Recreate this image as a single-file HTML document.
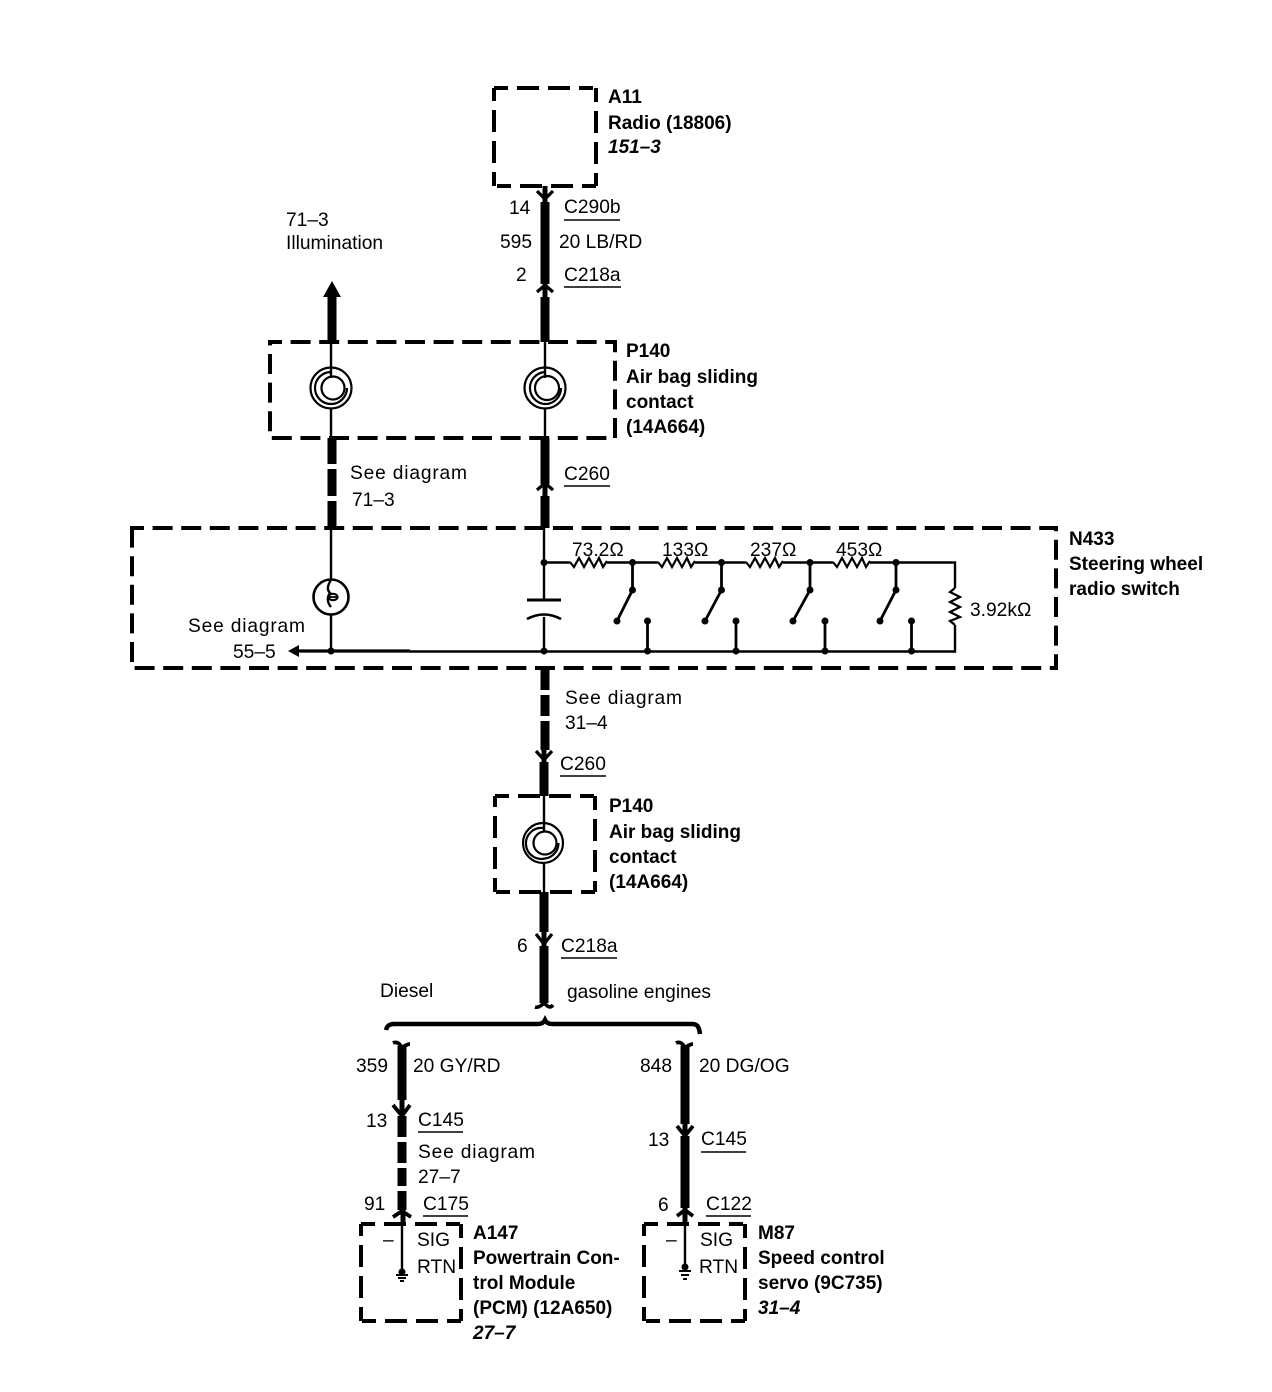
<!DOCTYPE html>
<html><head><meta charset="utf-8"><style>
html,body{margin:0;padding:0;background:#fff}
svg{display:block}
text{font-family:"Liberation Sans",sans-serif;font-size:19.2px;fill:#000}
.b{font-weight:bold;font-size:19px}
.i{font-weight:bold;font-style:italic;font-size:19px}
.d{fill:none;stroke:#000;stroke-width:4;stroke-dasharray:20 8.6;stroke-dashoffset:8}
.s{fill:none;stroke:#000;stroke-width:4;stroke-dasharray:14 9 22 9 22 9 14 200}
.t{fill:none;stroke:#000;stroke-width:9}
.m{fill:none;stroke:#000;stroke-width:5}
.n{fill:none;stroke:#000;stroke-width:2.4}
.c{fill:none;stroke:#000;stroke-width:3.2}
</style></head><body>
<svg width="1272" height="1392" viewBox="0 0 1272 1392" xmlns="http://www.w3.org/2000/svg">
<rect width="1272" height="1392" fill="#fff"/>

<!-- dashed boxes -->
<path class="s" d="M494 88H596M596 88V186M596 186H494M494 186V88"/>
<rect class="d" x="270" y="342" width="345" height="96"/>
<rect class="d" x="132" y="528" width="924" height="140"/>
<path class="s" d="M495 796H595M595 796V892M595 892H495M495 892V796"/>
<path class="s" d="M361 1224H461M461 1224V1321M461 1321H361M361 1321V1224"/>
<path class="s" d="M644 1224H745M745 1224V1321M745 1321H644M644 1321V1224"/>

<!-- heavy wires -->
<path class="t" d="M545 202V284M545 297V342M545 438V484M545 496V528"/>
<path class="m" d="M545 186V204M545 284V297M545 484V496"/>
<path class="c" d="M537 191L545 199L553 191M537 292L545 285L553 292M537 490L545 483L553 490"/>
<path class="t" d="M332 297V342M332 438V464M332 469V496M332 501V528"/>
<path d="M332 281L341 297H323Z" fill="#000"/>
<path class="t" d="M545 668V690M545 695V716M545 721V750"/>
<path class="t" d="M544 762V796"/>
<path class="m" d="M544 750V764"/>
<path class="c" d="M536 751L544 760L552 751"/>
<path class="t" d="M544 892V932"/>
<path class="c" d="M536 934L544 944L552 934"/>
<path class="m" d="M544 932V946"/>
<path class="t" d="M544 946V1003"/>
<path class="c" style="stroke-width:3.6" d="M535 1007C538 1008 541 1006 544 1003C547 1006 550 1009 553 1005"/>

<!-- brace -->
<path d="M386 1030C387 1026 389 1024 394 1024H538Q543 1024 545 1020Q547 1024 552 1024H692C697 1024 699 1026 700 1034" fill="none" stroke="#000" stroke-width="4.5"/>

<!-- lower wires -->
<path class="t" d="M402 1046V1100M402 1116V1137M402 1142V1163M402 1168V1186M402 1191V1210"/>
<path class="c" style="stroke-width:3.8" d="M393 1043C397 1041 400 1044 402 1048C404 1046 408 1044 410 1044M393 1105L402 1116L410 1105M393 1217L402 1211L411 1217"/>
<path class="m" d="M402 1100V1116M403 1210V1224"/>
<path class="t" d="M685 1046V1124M685 1136V1208"/>
<path class="c" style="stroke-width:3.8" d="M676 1043C680 1041 683 1044 685 1048C687 1046 691 1044 693 1044M677 1126L685 1136L693 1126M677 1216L685 1210L693 1216"/>
<path class="m" d="M685 1122V1136M685 1208V1224"/>

<!-- thin wires through boxes -->
<path class="n" d="M331 342V378M331 408V438M545 342V378M545 409V438M331 528V579M331 615V651M544 528V600M544 617V651M544 796V832M544 864V892"/>

<!-- coils -->
<g fill="none" stroke="#000" stroke-width="2.2">
<circle cx="331" cy="388" r="20.500"/><path d="M331 372A16 16 0 1 0 331 404A16 16 0 0 0 347 388" /><circle cx="333" cy="388" r="11.500"/>
<circle cx="545" cy="388" r="20.500"/><path d="M545 372A16 16 0 1 0 547 404A16 16 0 0 0 561 388"/><circle cx="547" cy="388" r="12"/>
<circle cx="543" cy="843" r="20"/><path d="M543 828A15.500 15.500 0 1 0 545 858.500A15.500 15.500 0 0 0 558.500 843"/><circle cx="545" cy="843" r="11.500"/>
</g>

<!-- lamp -->
<circle cx="331" cy="597" r="17.500" fill="none" stroke="#000" stroke-width="2.6"/>
<path d="M331 580C327 586 327 590 330 593C327 597 327 602 331 607" fill="none" stroke="#000" stroke-width="2.4"/>
<ellipse cx="333" cy="597" rx="4.500" ry="3.200" fill="none" stroke="#000" stroke-width="2.2"/>
<path d="M328 597H338" stroke="#000" stroke-width="1.800"/>

<!-- capacitor -->
<path d="M527 600H561" stroke="#000" stroke-width="3" fill="none"/>
<path d="M527 619Q544 610 561 619" stroke="#000" stroke-width="2.600" fill="none"/>

<!-- bus & network -->
<path d="M296 651H410" stroke="#000" stroke-width="3.200" fill="none"/>
<path d="M288 651L299 645V657Z" fill="#000"/>
<path class="n" d="M410 651.500H955V625M955 588V562.500H896M544 562.500H570M607 562.500H658M695 562.500H746M783 562.500H833M870 562.500H896"/>
<g fill="none" stroke="#000" stroke-width="2.200">
<path d="M570 562L574 567L579 558L584 567L589 558L594 567L599 558L603 567L607 561"/>
<path d="M658 562L662 567L667 558L672 567L677 558L682 567L687 558L691 567L695 561"/>
<path d="M746 562L750 567L755 558L760 567L765 558L770 567L775 558L779 567L783 561"/>
<path d="M833 562L837 567L842 558L847 567L852 558L857 567L862 558L866 567L870 561"/>
<path d="M955 588L950 592L960 597L950 602L960 607L950 612L960 617L950 621L955 625"/>
</g>
<path d="M632.500 562V590L617 621M721.500 562V590L705 621M810 562V590L793 621M896 562V590L880 621M647.500 621V651M736 621V651M825 621V651M911.500 621V651" fill="none" stroke="#000" stroke-width="2.800"/>
<g fill="#000">
<circle cx="544" cy="562.500" r="3.500"/><circle cx="632.500" cy="562.500" r="3.500"/><circle cx="721.500" cy="562.500" r="3.500"/><circle cx="810" cy="562.500" r="3.500"/><circle cx="896" cy="562.500" r="3.500"/>
<circle cx="632.500" cy="590" r="3.500"/><circle cx="721.500" cy="590" r="3.500"/><circle cx="810" cy="590" r="3.500"/><circle cx="896" cy="590" r="3.500"/>
<circle cx="617" cy="621" r="3.500"/><circle cx="705" cy="621" r="3.500"/><circle cx="793" cy="621" r="3.500"/><circle cx="880" cy="621" r="3.500"/>
<circle cx="647.500" cy="621" r="3.500"/><circle cx="736" cy="621" r="3.500"/><circle cx="825" cy="621" r="3.500"/><circle cx="911.500" cy="621" r="3.500"/>
<circle cx="331" cy="651" r="3.500"/><circle cx="544" cy="651" r="3.500"/><circle cx="647.500" cy="651" r="3.500"/><circle cx="736" cy="651" r="3.500"/><circle cx="825" cy="651" r="3.500"/><circle cx="911.500" cy="651" r="3.500"/>
</g>

<!-- grounds -->
<path class="n" d="M402 1224V1270M685 1224V1270"/>
<path d="M396 1275H408M398 1278H406M400 1281H404M679 1271H691M681 1275H689M683 1279H687" stroke="#000" stroke-width="2" fill="none"/>
<circle cx="402" cy="1272" r="3.500" fill="#000"/><circle cx="685" cy="1267" r="3.500" fill="#000"/>

<!-- underlines -->
<path d="M564 220H620M564 287H621M564 486H610M560 776H606M561 958H617M418 1132H463M701 1152H746M423 1216H468M706 1216H751" stroke="#000" stroke-width="1.500" fill="none"/>

<!-- labels -->
<text class="b" x="608" y="103">A11</text>
<text class="b" x="608" y="129">Radio (18806)</text>
<text class="i" x="608" y="153">151–3</text>
<text x="509" y="214">14</text><text x="564" y="213">C290b</text>
<text x="500" y="248">595</text><text x="559" y="248">20 LB/RD</text>
<text x="516" y="281">2</text><text x="564" y="281">C218a</text>
<text x="286" y="226">71–3</text><text x="286" y="249">Illumination</text>
<text class="b" x="626" y="357">P140</text>
<text class="b" x="626" y="383">Air bag sliding</text>
<text class="b" x="626" y="408">contact</text>
<text class="b" x="626" y="433">(14A664)</text>
<text x="350" y="479" textLength="117">See diagram</text><text x="352" y="506">71–3</text>
<text x="564" y="480">C260</text>
<text class="b" x="1069" y="545">N433</text>
<text class="b" x="1069" y="570">Steering wheel</text>
<text class="b" x="1069" y="595">radio switch</text>
<text x="572" y="556">73.2Ω</text><text x="662" y="556">133Ω</text><text x="750" y="556">237Ω</text><text x="836" y="556">453Ω</text>
<text x="970" y="616">3.92kΩ</text>
<text x="188" y="632" textLength="117">See diagram</text><text x="233" y="658">55–5</text>
<text x="565" y="704" textLength="117">See diagram</text><text x="565" y="729">31–4</text>
<text x="560" y="770">C260</text>
<text class="b" x="609" y="812">P140</text>
<text class="b" x="609" y="838">Air bag sliding</text>
<text class="b" x="609" y="863">contact</text>
<text class="b" x="609" y="888">(14A664)</text>
<text x="517" y="952">6</text><text x="561" y="952">C218a</text>
<text x="380" y="997">Diesel</text><text x="567" y="998">gasoline engines</text>
<text x="356" y="1072">359</text><text x="413" y="1072">20 GY/RD</text>
<text x="640" y="1072">848</text><text x="699" y="1072">20 DG/OG</text>
<text x="366" y="1127">13</text><text x="418" y="1126">C145</text>
<text x="418" y="1158" textLength="117">See diagram</text><text x="418" y="1183">27–7</text>
<text x="648" y="1146">13</text><text x="701" y="1145">C145</text>
<text x="364" y="1210">91</text><text x="423" y="1210">C175</text>
<text x="658" y="1211">6</text><text x="706" y="1210">C122</text>
<text x="383" y="1246">–</text><text x="417" y="1246">SIG</text><text x="417" y="1273">RTN</text>
<text x="666" y="1246">–</text><text x="700" y="1246">SIG</text><text x="699" y="1273">RTN</text>
<text class="b" x="473" y="1239">A147</text>
<text class="b" x="473" y="1264">Powertrain Con-</text>
<text class="b" x="473" y="1289">trol Module</text>
<text class="b" x="473" y="1314">(PCM) (12A650)</text>
<text class="i" x="473" y="1339">27–7</text>
<text class="b" x="758" y="1239">M87</text>
<text class="b" x="758" y="1264">Speed control</text>
<text class="b" x="758" y="1289">servo (9C735)</text>
<text class="i" x="758" y="1314">31–4</text>
</svg>
</body></html>
